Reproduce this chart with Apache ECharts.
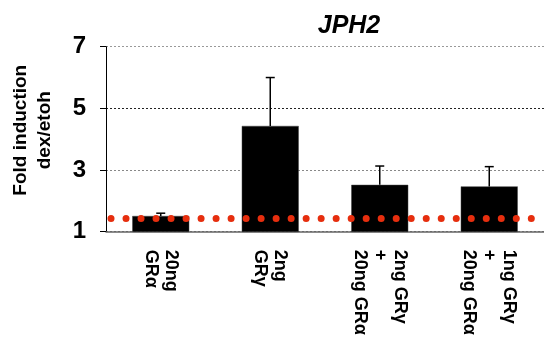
<!DOCTYPE html>
<html>
<head>
<meta charset="utf-8">
<script src="https://cdn.jsdelivr.net/npm/echarts@6/dist/echarts.min.js"></script>
<style>html,body{margin:0;padding:0;background:#fff}#c{width:544px;height:338px}</style>
</head>
<body>
<div id="c"></div>
<script>
const categories = ['20ng\nGRα', '2ng\nGRγ', '2ng GRγ\n+\n20ng GRα', '1ng GRγ\n+\n20ng GRα'];
const values = [1.51, 4.43, 2.52, 2.47];
const errorTops = [1.60, 6.0, 3.13, 3.11];
const baseline = 1.45;
const yTicks = [1, 3, 5, 7];

const chart = echarts.init(document.getElementById('c'), null, {renderer: 'canvas'});
const font = '"Liberation Sans", Arial, Helvetica, sans-serif';

chart.setOption({
  animation: false,
  title: {
    text: 'JPH2',
    left: 344,
    top: 9,
    textAlign: 'center',
    textStyle: {fontFamily: font, fontSize: 25, fontWeight: 'bold', fontStyle: 'italic', color: '#000'}
  },
  grid: {left: 106, right: -6, top: 46.7, bottom: 106.3, containLabel: false},
  xAxis: {
    type: 'category',
    data: categories,
    axisLine: {lineStyle: {color: '#666', width: 1.5}},
    axisTick: {show: false},
    axisLabel: {
      rotate: -90,
      margin: 18,
      interval: 0,
      fontFamily: font,
      fontSize: 18,
      fontWeight: 'bold',
      color: '#000',
      lineHeight: 20
    }
  },
  yAxis: {
    type: 'value',
    min: yTicks[0],
    max: yTicks[yTicks.length - 1],
    interval: 2,
    name: 'Fold induction\ndex/etoh',
    nameLocation: 'middle',
    nameGap: 49,
    nameRotate: 90,
    nameTextStyle: {fontFamily: font, fontSize: 19, fontWeight: 'bold', color: '#000', lineHeight: 24, padding: [0, 0, 0, 18]},
    axisLine: {show: true, lineStyle: {color: '#000', width: 1}},
    axisTick: {show: true, length: 6, lineStyle: {color: '#000'}},
    axisLabel: {fontFamily: font, fontSize: 24, fontWeight: 'bold', color: '#000', margin: 20},
    splitLine: {show: true, lineStyle: {color: ['#777', '#888', '#222', '#999'], type: [2, 2], width: 1}}
  },
  series: [
    {
      type: 'bar',
      data: values,
      barWidth: 57,
      itemStyle: {color: '#000', borderColor: '#444', borderWidth: 0.5},
      z: 2
    },
    {
      type: 'custom',
      z: 3,
      data: values.map((v, i) => [i, v, errorTops[i]]),
      renderItem: function (params, api) {
        const i = api.value(0);
        const p1 = api.coord([i, api.value(1)]);
        const p2 = api.coord([i, api.value(2)]);
        const hw = 4.5;
        return {
          type: 'group',
          children: [
            {type: 'line', shape: {x1: p1[0], y1: p1[1], x2: p2[0], y2: p2[1]}, style: {stroke: '#000', lineWidth: 1.5}},
            {type: 'line', shape: {x1: p2[0] - hw, y1: p2[1], x2: p2[0] + hw, y2: p2[1]}, style: {stroke: '#000', lineWidth: 1.5}}
          ]
        };
      }
    },
    {
      type: 'line',
      data: [],
      z: 5,
      markLine: {
        silent: true,
        symbol: 'none',
        label: {show: false},
        lineStyle: {color: '#e62e0e', width: 7, type: [0.01, 15], dashOffset: 10, cap: 'round'},
        data: [{yAxis: baseline}]
      }
    }
  ]
});
</script>
</body>
</html>
